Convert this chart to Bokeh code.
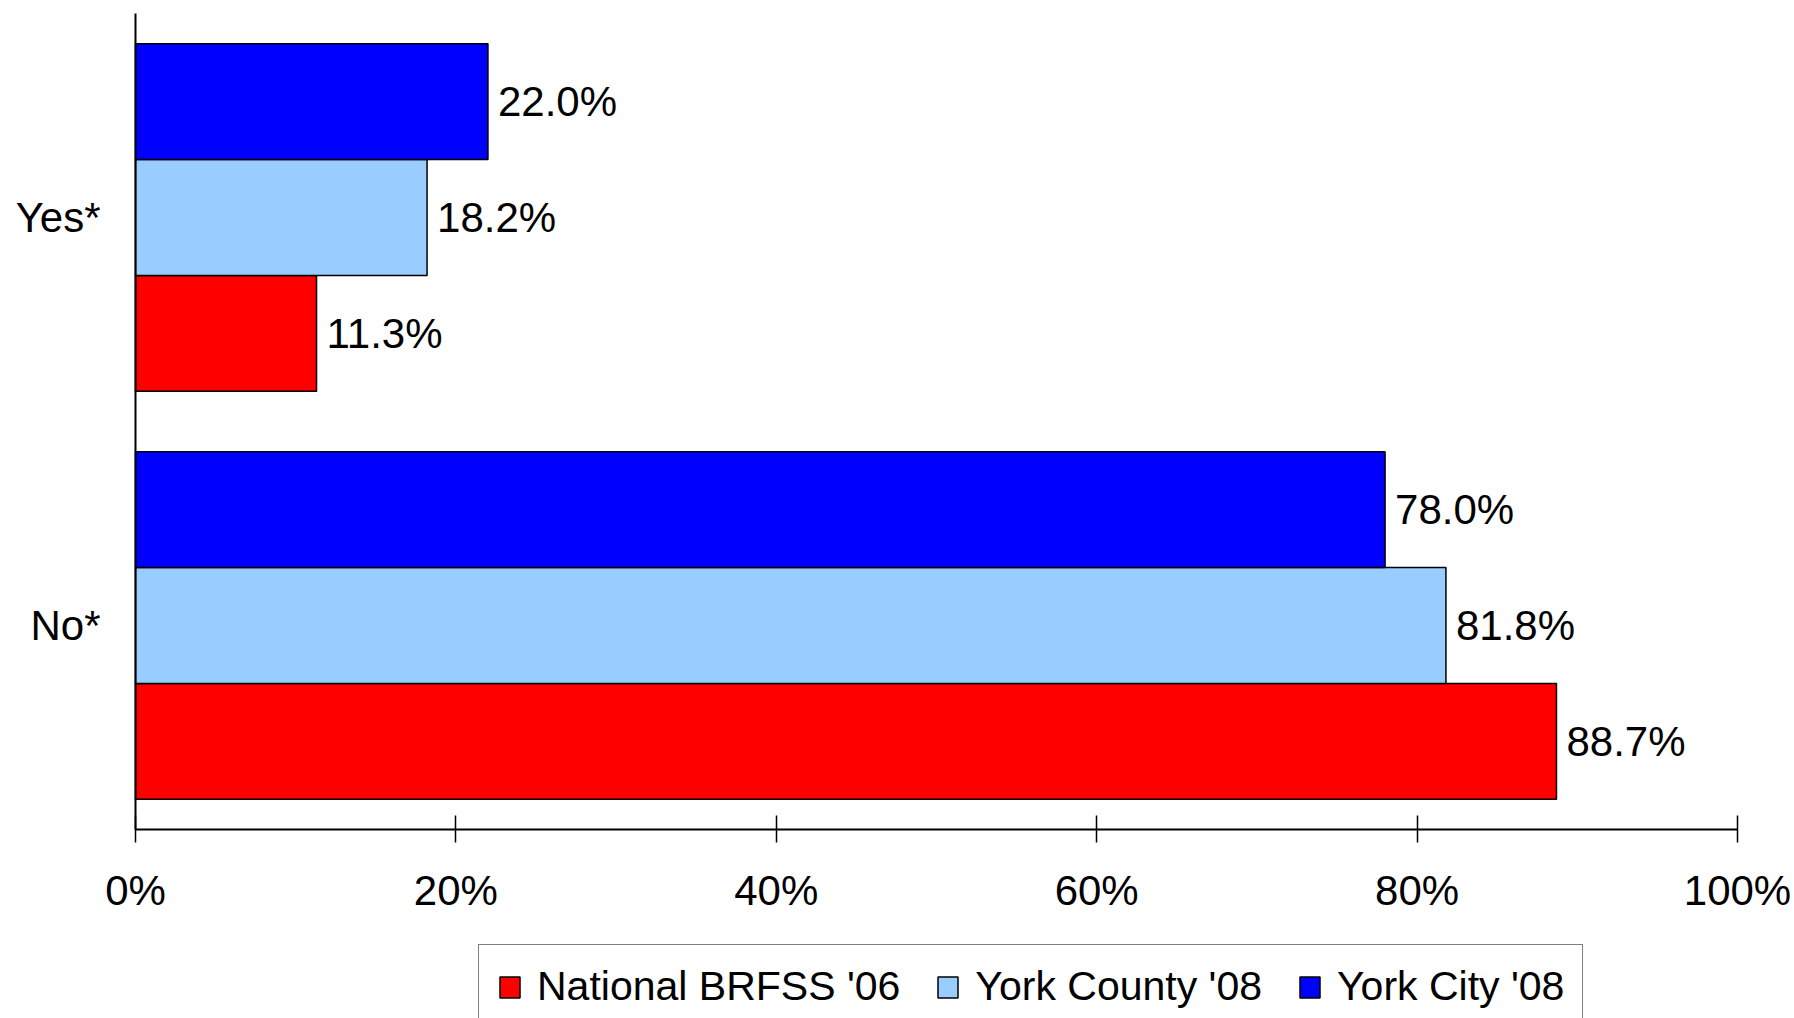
from bokeh.plotting import figure
from bokeh.models import (ColumnDataSource, Range1d, Legend, LegendItem,
                          LinearAxis, FixedTicker)
from bokeh.transform import dodge
from bokeh.core.properties import value
from bokeh.embed import file_html
from bokeh.resources import INLINE

# ---- data ----
categories = ["No*", "Yes*"]            # bottom to top
national_brfss_06 = [88.7, 11.3]
york_county_08 = [81.8, 18.2]
york_city_08 = [78.0, 22.0]
series_names = ["National BRFSS '06", "York County '08", "York City '08"]
tick_values = [0, 20, 40, 60, 80, 100]
tick_labels = ["0%", "20%", "40%", "60%", "80%", "100%"]

colors = ["#FF0000", "#99CCFF", "#0000FF"]
FONT = "Liberation Sans"

cat_pos = [i + 0.5 for i in range(len(categories))]
n_cat = len(categories)

source = ColumnDataSource(dict(
    ypos=cat_pos,
    nat=national_brfss_06,
    county=york_county_08,
    city=york_city_08,
    nat_lbl=[f"{v:.1f}%" for v in national_brfss_06],
    county_lbl=[f"{v:.1f}%" for v in york_county_08],
    city_lbl=[f"{v:.1f}%" for v in york_city_08],
))

# the frame covers the whole canvas; axes are drawn at fixed locations inside it
X_START, X_END = -8.427, 103.558
Y_START, Y_END = -0.4632, 2.0319
p = figure(width=1794, height=1018,
           x_range=Range1d(X_START, X_END), y_range=Range1d(Y_START, Y_END),
           x_axis_location=None, y_axis_location=None,
           output_backend="svg", toolbar_location=None,
           min_border_left=0, min_border_right=0,
           min_border_top=0, min_border_bottom=0)

p.outline_line_color = None
p.grid.grid_line_color = None
p.background_fill_color = "white"
p.border_fill_color = "white"

BAR_H = 0.284
offsets = [-BAR_H, 0.0, BAR_H]
cols = ["nat", "county", "city"]
renderers = []
for col, off, c in zip(cols, offsets, colors):
    r = p.hbar(y=dodge("ypos", off), left=0, right=col, height=BAR_H,
               source=source, fill_color=c, line_color="black", line_width=1.5)
    renderers.append(r)
    p.text(x=col, y=dodge("ypos", off), text=col + "_lbl", source=source,
           x_offset=10, text_baseline="middle", text_align="left",
           text_font=value(FONT), text_font_size=value("42px"), text_color="black")

# x axis, drawn at y = 0
xa = LinearAxis(fixed_location=0, bounds=(tick_values[0], tick_values[-1]))
xa.ticker = FixedTicker(ticks=tick_values)
xa.major_label_overrides = {v: l for v, l in zip(tick_values, tick_labels)}
xa.minor_tick_line_color = None
xa.major_tick_in = 14
xa.major_tick_out = 13
xa.major_tick_line_color = "black"
xa.major_tick_line_width = 1.5
xa.axis_line_color = "black"
xa.axis_line_width = 2
xa.major_label_text_font = FONT
xa.major_label_text_font_size = "42px"
xa.major_label_text_color = "black"
xa.major_label_standoff = 24
p.add_layout(xa, "below")

# y axis (categories), drawn at x = 0
ya = LinearAxis(fixed_location=0, bounds=(0, n_cat))
ya.ticker = FixedTicker(ticks=cat_pos)
ya.major_label_overrides = {y: c for y, c in zip(cat_pos, categories)}
ya.major_tick_line_color = None
ya.minor_tick_line_color = None
ya.major_tick_in = 0
ya.major_tick_out = 0
ya.axis_line_color = "black"
ya.axis_line_width = 2
ya.major_label_text_font = FONT
ya.major_label_text_font_size = "42px"
ya.major_label_text_color = "black"
ya.major_label_standoff = 35
p.add_layout(ya, "left")

legend = Legend(
    items=[LegendItem(label=n, renderers=[r]) for n, r in zip(series_names, renderers)],
    orientation="horizontal",
    location=(478, -11),
    label_text_font=FONT, label_text_font_size="41px", label_text_color="black",
    glyph_width=25, glyph_height=26, label_standoff=15, spacing=35, padding=18,
    border_line_color="black", border_line_width=1.5,
    background_fill_color="white", background_fill_alpha=1.0, margin=0,
)
p.add_layout(legend, "center")

open("out.html", "w").write(file_html(p, INLINE))
